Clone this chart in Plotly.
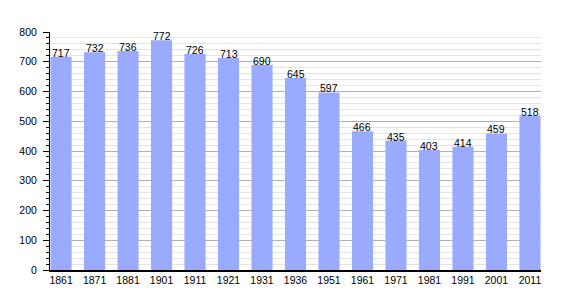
import plotly.graph_objects as go

years = ["1861", "1871", "1881", "1901", "1911", "1921", "1931", "1936",
         "1951", "1961", "1971", "1981", "1991", "2001", "2011"]
population = [717, 732, 736, 772, 726, 713, 690, 645, 597, 466, 435, 403, 414, 459, 518]

fig = go.Figure()
fig.add_trace(go.Bar(
    x=list(range(len(years))), y=population,
    marker=dict(color="#99aaff", line=dict(width=0)),
    width=0.63,
    hoverinfo="skip",
))

for i, v in enumerate(population):
    fig.add_annotation(x=i, y=v, text=str(v), showarrow=False,
                       yanchor="bottom", yshift=-4,
                       font=dict(family="Liberation Sans, Arial", size=10.5, color="#000"))

fig.update_layout(
    width=570, height=300,
    margin=dict(l=50, r=29, t=32, b=30),
    paper_bgcolor="white", plot_bgcolor="white",
    showlegend=False,
    font=dict(family="Liberation Sans, Arial", size=10.5, color="#000"),
    xaxis=dict(
        range=[-0.33, 14.33],
        tickmode="array", tickvals=list(range(len(years))), ticktext=years,
        showgrid=False, zeroline=False,
        showline=True, linecolor="#000", linewidth=1.5,
        ticks="", ticklen=0,
        tickfont=dict(size=10.5),
    ),
    yaxis=dict(
        range=[0, 800],
        tickmode="linear", tick0=0, dtick=100,
        showgrid=True, gridcolor="#b0b0b0", gridwidth=1,
        zeroline=False,
        showline=True, linecolor="#000", linewidth=1,
        ticks="outside", ticklen=6, tickcolor="#000",
        ticklabelstandoff=4,
        tickfont=dict(size=10.5),
        minor=dict(dtick=20, showgrid=True, gridcolor="#e4e4e4", gridwidth=1,
                   ticks="outside", ticklen=3, tickcolor="#000"),
    ),
)

fig.write_html("out.html")
